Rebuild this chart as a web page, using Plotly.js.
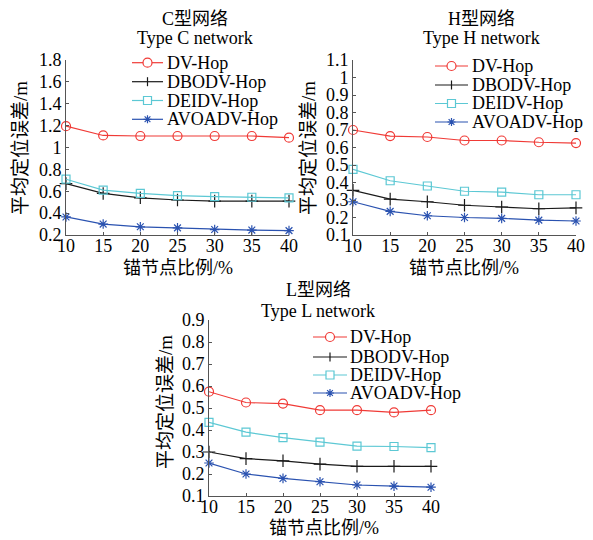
<!DOCTYPE html>
<html><head><meta charset="utf-8">
<script src="https://cdn.plot.ly/plotly-3.0.1.min.js"></script>
<style>html,body{margin:0;padding:0;background:#fff}#chart{width:593px;height:540px}</style>
</head><body><div id="chart"></div>
<script>
// ---- data ----
const anchorRatio = [10, 15, 20, 25, 30, 35, 40];
const seriesNames = ['DV-Hop', 'DBODV-Hop', 'DEIDV-Hop', 'AVOADV-Hop'];

const typeC_DV     = [1.195, 1.11, 1.105, 1.105, 1.105, 1.105, 1.09];
const typeC_DBODV  = [0.67, 0.58, 0.54, 0.52, 0.51, 0.51, 0.51];
const typeC_DEIDV  = [0.71, 0.61, 0.58, 0.56, 0.55, 0.545, 0.54];
const typeC_AVOADV = [0.365, 0.30, 0.275, 0.265, 0.25, 0.245, 0.24];

const typeH_DV     = [0.70, 0.665, 0.66, 0.64, 0.64, 0.63, 0.625];
const typeH_DBODV  = [0.355, 0.305, 0.29, 0.27, 0.26, 0.25, 0.255];
const typeH_DEIDV  = [0.475, 0.41, 0.38, 0.35, 0.345, 0.33, 0.33];
const typeH_AVOADV = [0.29, 0.235, 0.21, 0.20, 0.195, 0.185, 0.18];

const typeL_DV     = [0.574, 0.525, 0.52, 0.49, 0.49, 0.48, 0.49];
const typeL_DBODV  = [0.30, 0.27, 0.26, 0.245, 0.235, 0.235, 0.235];
const typeL_DEIDV  = [0.435, 0.39, 0.365, 0.345, 0.327, 0.325, 0.32];
const typeL_AVOADV = [0.25, 0.20, 0.18, 0.165, 0.15, 0.145, 0.14];

const titlesCN = ['C型网络', 'H型网络', 'L型网络'];
const titlesEN = ['Type C network', 'Type H network', 'Type L network'];
const xTitle = '锚节点比例/%';
const yTitle = '平均定位误差/m';

// ---- styles ----
const W = 593, H = 540;
const FONT = 'Liberation Serif, Times New Roman, Noto Sans CJK SC, serif';
const styles = [
  {color: '#f03a36', symbol: 'circle-open', size: 9},
  {color: '#1a1a1a', symbol: 'cross-thin-open', size: 9},
  {color: '#5cc8d4', symbol: 'square-open', size: 8},
  {color: '#2a52b0', symbol: 'asterisk-open', size: 8}
];
const px = x => x / W;
const py = y => 1 - y / H;

const panels = [
  {data: [typeC_DV, typeC_DBODV, typeC_DEIDV, typeC_AVOADV], xr: [66, 289], yr: [60, 235], range: [0.2, 1.8], dtick: 0.2,
   title: [195, 19, 38], xt: [178, 268], yt: [20, 148], leg: {x0: 132, x1: 163, tx: 165, rows: [62.7, 81.7, 100.5, 119.3]}},
  {data: [typeH_DV, typeH_DBODV, typeH_DEIDV, typeH_AVOADV], xr: [353, 576], yr: [60, 235], range: [0.1, 1.1], dtick: 0.1,
   title: [481, 19, 38], xt: [464, 268], yt: [308, 148], leg: {x0: 435, x1: 468, tx: 470, rows: [66, 85, 103.5, 122]}},
  {data: [typeL_DV, typeL_DBODV, typeL_DEIDV, typeL_AVOADV], xr: [209, 431], yr: [320, 496], range: [0.1, 0.9], dtick: 0.1,
   title: [318, 290, 311], xt: [324, 528], yt: [165, 402], leg: {x0: 313, x1: 347, tx: 348, rows: [337, 357, 375, 393]}}
];

const traces = [];
const layout = {
  width: W, height: H, margin: {l: 0, r: 0, t: 0, b: 0},
  paper_bgcolor: '#fff', plot_bgcolor: '#fff', showlegend: false,
  font: {family: FONT, size: 18, color: '#000'},
  annotations: [], shapes: []
};

panels.forEach((p, i) => {
  const sfx = i === 0 ? '' : String(i + 1);
  p.data.forEach((vals, k) => {
    const s = styles[k];
    traces.push({
      x: anchorRatio, y: vals, name: seriesNames[k], type: 'scatter', mode: 'lines+markers',
      xaxis: 'x' + sfx, yaxis: 'y' + sfx, cliponaxis: false,
      line: {color: s.color, width: 1.2},
      marker: {symbol: s.symbol, size: s.size, color: s.color, line: {color: s.color, width: 1.2}}
    });
  });
  layout['xaxis' + sfx] = {
    domain: [px(p.xr[0]), px(p.xr[1])], anchor: 'y' + sfx, range: [10, 40],
    tickvals: anchorRatio, ticks: 'inside', ticklen: 3, tickcolor: '#555', tickwidth: 1,
    ticklabelstandoff: -6,
    showline: true, linecolor: '#555', linewidth: 1, showgrid: false, zeroline: false,
    tickfont: {family: FONT, size: 18, color: '#000'}
  };
  layout['yaxis' + sfx] = {
    domain: [py(p.yr[1]), py(p.yr[0])], anchor: 'x' + sfx, range: p.range,
    tick0: p.range[0], dtick: p.dtick, ticks: 'inside', ticklen: 3, tickcolor: '#555', tickwidth: 1,
    showline: true, linecolor: '#555', linewidth: 1, showgrid: false, zeroline: false,
    tickfont: {family: FONT, size: 18, color: '#000'}
  };
  const ann = (x, y, text, extra) => layout.annotations.push(Object.assign({
    xref: 'paper', yref: 'paper', x: px(x), y: py(y), text: text, showarrow: false,
    xanchor: 'center', yanchor: 'middle', font: {family: FONT, size: 18, color: '#000'}
  }, extra || {}));
  ann(p.title[0], p.title[1], titlesCN[i]);
  ann(p.title[0], p.title[2], titlesEN[i]);
  ann(p.xt[0], p.xt[1], xTitle);
  ann(p.yt[0], p.yt[1], yTitle, {textangle: -90, font: {family: FONT, size: 19, color: '#000'}});

  // legend (drawn manually for MATLAB-like compact spacing)
  const L = p.leg;
  const mx = (L.x0 + L.x1) / 2;
  L.rows.forEach((ry, k) => {
    const s = styles[k];
    const ln = {color: s.color, width: 1.2};
    layout.shapes.push({type: 'line', xref: 'paper', yref: 'paper', x0: px(L.x0), x1: px(L.x1), y0: py(ry), y1: py(ry), line: ln});
    const r = s.size / 2;
    if (k === 0) {
      layout.shapes.push({type: 'circle', xref: 'paper', yref: 'paper', x0: px(mx - r), x1: px(mx + r), y0: py(ry - r), y1: py(ry + r), line: ln, fillcolor: '#fff'});
    } else if (k === 1) {
      layout.shapes.push({type: 'path', xref: 'paper', yref: 'paper', line: ln,
        path: `M${px(mx)},${py(ry - r)} L${px(mx)},${py(ry + r)}`});
    } else if (k === 2) {
      layout.shapes.push({type: 'rect', xref: 'paper', yref: 'paper', x0: px(mx - r), x1: px(mx + r), y0: py(ry - r), y1: py(ry + r), line: ln, fillcolor: '#fff'});
    } else {
      const d = r * 0.72;
      layout.shapes.push({type: 'path', xref: 'paper', yref: 'paper', line: ln,
        path: `M${px(mx - r)},${py(ry)} L${px(mx + r)},${py(ry)} M${px(mx)},${py(ry - r)} L${px(mx)},${py(ry + r)} ` +
              `M${px(mx - d)},${py(ry - d)} L${px(mx + d)},${py(ry + d)} M${px(mx - d)},${py(ry + d)} L${px(mx + d)},${py(ry - d)}`});
    }
    ann(L.tx, ry, seriesNames[k], {xanchor: 'left'});
  });
});

Plotly.newPlot('chart', traces, layout, {displayModeBar: false, staticPlot: true});
</script>
</body></html>
